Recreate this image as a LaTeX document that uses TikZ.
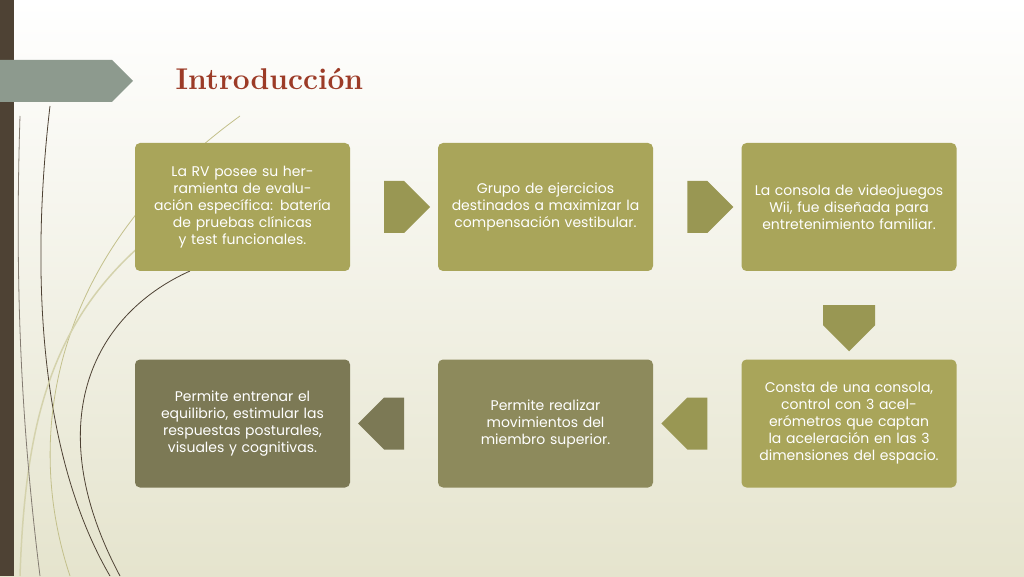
\documentclass[tikz,border=0pt]{standalone}
\usepackage{fontspec}
\setsansfont{Poppins}
\usetikzlibrary{calc,positioning,shapes.arrows}
\definecolor{olive1}{HTML}{A9A55A}
\definecolor{olive2}{HTML}{8D8A5C}
\definecolor{olive3}{HTML}{7C7955}
\definecolor{arrowc}{HTML}{999753}
\definecolor{titlec}{HTML}{9C3B27}
\definecolor{barc}{HTML}{4E4234}
\definecolor{tabc}{HTML}{8D9A8E}
\tikzset{
step box/.style={rectangle,rounded corners=5pt,minimum width=215pt,minimum height=128pt,
    text width=190pt,align=center,text=white,font=\sffamily\fontsize{14}{17}\selectfont},
flow arrow/.style={single arrow,fill=arrowc,minimum height=46pt,minimum width=52pt,
    single arrow head extend=0pt,inner sep=0pt,shape border rotate=#1},
}
\begin{document}
\begin{tikzpicture}[x=1pt,y=1pt]
  \useasboundingbox (0,0) rectangle (1024,576);
  % background
  \shade[top color=white,bottom color=olive1!30!white] (0,0) rectangle (1024,576);
  \fill[barc] (0,0) rectangle (14,576);
  \fill[tabc] (0,474) -- (112,474) -- (133,495) -- (112,516) -- (0,516) -- cycle;
  % decorative strokes
  \draw[barc,line width=0.8pt] (110,0) .. controls (40,120) and (30,300) .. (50,470);
  \draw[olive1!70!white,line width=0.8pt] (70,0) .. controls (20,150) and (60,330) .. (240,460);
  \draw[barc,line width=0.8pt] (120,0) .. controls (40,150) and (90,260) .. (190,305);
  \draw[olive1!50!white,line width=1.5pt] (20,0) .. controls (25,150) and (50,250) .. (140,330);
  \draw[barc!70!white,line width=0.8pt] (40,0) .. controls (20,160) and (15,300) .. (20,460);
  % title
  \node[anchor=west,text=titlec,font=\fontsize{30}{34}\selectfont\bfseries] (title) at (172,497) {Introducción};
  % boxes
  \node[step box,fill=olive1] (b1) at (242.5,369) {La RV posee su herramienta de evaluación específica: batería de pruebas clínicas y test funcionales.};
  \node[step box,fill=olive1] (b2) at (545.5,369) {Grupo de ejercicios destinados a maximizar la compensación vestibular.};
  \node[step box,fill=olive1] (b3) at (849,369) {La consola de videojuegos Wii, fue diseñada para entretenimiento familiar.};
  \node[step box,fill=olive1] (b4) at (849,152.5) {Consta de una consola, control con 3 acelerómetros que captan la aceleración en las 3 dimensiones del espacio.};
  \node[step box,fill=olive2] (b5) at (545.5,152.5) {Permite realizar movimientos del miembro superior.};
  \node[step box,fill=olive3] (b6) at (242.5,152.5) {Permite entrenar el equilibrio, estimular las respuestas posturales, visuales y cognitivas.};
  % arrows
  \node[flow arrow=0] (a1) at ($(b1.east)!0.5!(b2.west)$) {};
  \node[flow arrow=0] (a2) at ($(b2.east)!0.5!(b3.west)$) {};
  \node[flow arrow=270] (a3) at ($(b3.south)!0.5!(b4.north)$) {};
  \node[flow arrow=180] (a4) at ($(b4.west)!0.5!(b5.east)$) {};
  \node[flow arrow=180,fill=olive3] (a5) at ($(b5.west)!0.5!(b6.east)$) {};
\end{tikzpicture}
\end{document}
